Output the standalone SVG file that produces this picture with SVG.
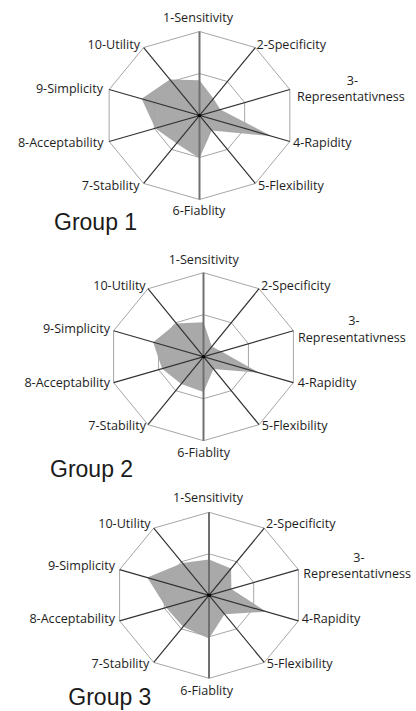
<svg xmlns="http://www.w3.org/2000/svg" xmlns:xlink="http://www.w3.org/1999/xlink" width="416" height="711" viewBox="0 0 416 711">
  <style>
    .area { fill: #a9a9a9; stroke: none; }
    .lbl { font-family: "Open Sans", "Liberation Sans", sans-serif; font-size: 12.6px; fill: #1e1e1e; }
    .mid { text-anchor: middle; }
    .end { text-anchor: end; }
    .title { font-family: "Liberation Sans", "Open Sans", sans-serif; font-size: 23px; fill: #1a1a1a; }
  </style>
  <defs>
    <!-- grid drawn on a unit circle: outer ring, half ring, spokes, vertical axis -->
    <g id="grid">
      <polygon points="0,-1 .5878,-.809 .9511,-.309 .9511,.309 .5878,.809 0,1 -.5878,.809 -.9511,.309 -.9511,-.309 -.5878,-.809" fill="none" stroke="#a6a6a6" stroke-width="1" vector-effect="non-scaling-stroke"/>
      <polygon points="0,-.5 .2939,-.4045 .4755,-.1545 .4755,.1545 .2939,.4045 0,.5 -.2939,.4045 -.4755,.1545 -.4755,-.1545 -.2939,-.4045" fill="none" stroke="#a6a6a6" stroke-width="1" vector-effect="non-scaling-stroke"/>
      <path d="M.5878,-.809 L-.5878,.809 M.9511,-.309 L-.9511,.309 M.9511,.309 L-.9511,-.309 M.5878,.809 L-.5878,-.809" fill="none" stroke="#333" stroke-width="1.2" vector-effect="non-scaling-stroke"/>
      <path d="M0,-1 L0,1" fill="none" stroke="#707070" stroke-width="2" vector-effect="non-scaling-stroke"/>
    </g>
  </defs>

  <!-- Group 1 -->
  <g id="chart1">
    <g transform="translate(199.5,115.5) scale(95,84)">
      <polygon class="area" points="0,-.42 .147,-.202 .219,-.071 .761,.247 .129,.178 0,.51 -.241,.332 -.466,.151 -.609,-.198 -.312,-.429"/>
      <use xlink:href="#grid"/>
    </g>
    <circle cx="199.5" cy="115.5" r="1.8" fill="#000"/>
    <text class="lbl mid" x="198" y="21.5">1-Sensitivity</text>
    <text class="lbl" x="256.5" y="48.5">2-Specificity</text>
    <text class="lbl mid" x="352.5" y="85">3-</text>
    <text class="lbl" x="297" y="100.5">Representativness</text>
    <text class="lbl" x="293" y="146.5">4-Rapidity</text>
    <text class="lbl" x="258" y="190">5-Flexibility</text>
    <text class="lbl mid" x="199" y="215">6-Fiablity</text>
    <text class="lbl end" x="139.5" y="190">7-Stability</text>
    <text class="lbl end" x="103.5" y="146.5">8-Acceptability</text>
    <text class="lbl end" x="103" y="93">9-Simplicity</text>
    <text class="lbl end" x="140" y="48.5">10-Utility</text>
    <text class="title" x="54" y="230">Group 1</text>
  </g>

  <!-- Group 2 -->
  <g id="chart2">
    <g transform="translate(203.5,356.7) scale(94.5,84)">
      <polygon class="area" points="0,-.41 .088,-.121 .19,-.062 .59,.192 .106,.146 0,.42 -.235,.324 -.438,.142 -.533,-.173 -.288,-.396"/>
      <use xlink:href="#grid"/>
    </g>
    <circle cx="203.5" cy="356.7" r="1.8" fill="#000"/>
    <text class="lbl mid" x="203.7" y="263.5">1-Sensitivity</text>
    <text class="lbl" x="261" y="290">2-Specificity</text>
    <text class="lbl mid" x="354" y="325">3-</text>
    <text class="lbl" x="298" y="341.5">Representativness</text>
    <text class="lbl" x="297.7" y="386.7">4-Rapidity</text>
    <text class="lbl" x="261.7" y="430">5-Flexibility</text>
    <text class="lbl mid" x="203.7" y="456.7">6-Fiablity</text>
    <text class="lbl end" x="146" y="430">7-Stability</text>
    <text class="lbl end" x="110" y="386.7">8-Acceptability</text>
    <text class="lbl end" x="110" y="333.3">9-Simplicity</text>
    <text class="lbl end" x="145.7" y="290">10-Utility</text>
    <text class="title" x="50" y="477">Group 2</text>
  </g>

  <!-- Group 3 -->
  <g id="chart3">
    <g transform="translate(209,595.3) scale(94,83)">
      <polygon class="area" points="0,-.43 .235,-.324 .238,-.077 .609,.198 .165,.227 0,.52 -.276,.38 -.457,.148 -.656,-.213 -.282,-.388"/>
      <use xlink:href="#grid"/>
    </g>
    <circle cx="209" cy="595.3" r="1.8" fill="#000"/>
    <text class="lbl mid" x="208" y="502.3">1-Sensitivity</text>
    <text class="lbl" x="266" y="528.3">2-Specificity</text>
    <text class="lbl mid" x="359" y="561.7">3-</text>
    <text class="lbl" x="303.3" y="578.3">Representativness</text>
    <text class="lbl" x="301.7" y="623.3">4-Rapidity</text>
    <text class="lbl" x="266.7" y="668.3">5-Flexibility</text>
    <text class="lbl mid" x="206.7" y="695">6-Fiablity</text>
    <text class="lbl end" x="149.3" y="668.3">7-Stability</text>
    <text class="lbl end" x="115" y="623.3">8-Acceptability</text>
    <text class="lbl end" x="115" y="570">9-Simplicity</text>
    <text class="lbl end" x="150.7" y="528.3">10-Utility</text>
    <text class="title" x="68.3" y="705">Group 3</text>
  </g>
</svg>
